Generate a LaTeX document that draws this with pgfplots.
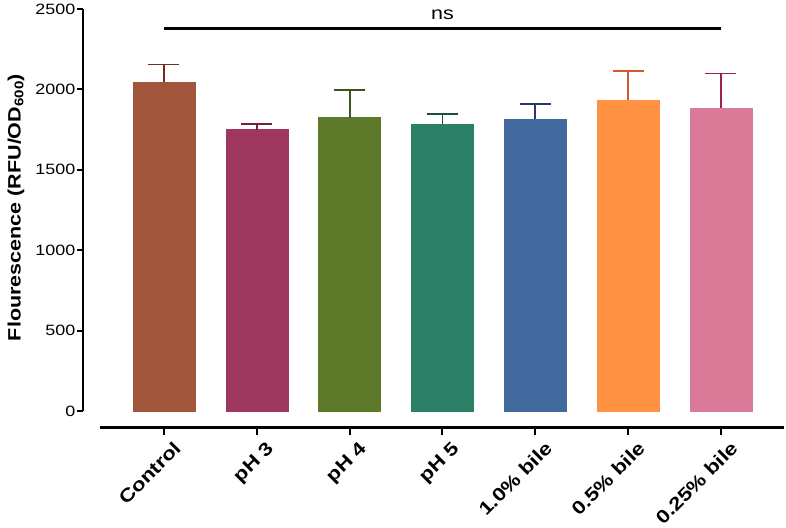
\documentclass[border=0pt]{standalone}
\usepackage{pgfplots}
\pgfplotsset{compat=1.18}
\usepackage{fontspec}
\setmainfont{Liberation Sans}[FakeStretch=1.2]
\definecolor{c1}{RGB}{161,85,58}
\definecolor{c2}{RGB}{158,56,94}
\definecolor{c3}{RGB}{93,122,43}
\definecolor{c4}{RGB}{44,128,104}
\definecolor{c5}{RGB}{65,105,158}
\definecolor{c6}{RGB}{255,147,67}
\definecolor{c7}{RGB}{216,122,152}
\definecolor{e1}{RGB}{122,42,28}
\definecolor{e2}{RGB}{122,30,62}
\definecolor{e3}{RGB}{62,84,32}
\definecolor{e4}{RGB}{30,77,60}
\definecolor{e5}{RGB}{38,61,107}
\definecolor{e6}{RGB}{214,86,44}
\definecolor{e7}{RGB}{158,33,73}
\begin{document}
\begin{tikzpicture}
\useasboundingbox (0,0) rectangle (786bp,528bp);
% y axis
\begin{axis}[
  at={(83bp,117bp)}, anchor=south west,
  scale only axis, width=1bp, height=402bp,
  xmin=0, xmax=1, ymin=0, ymax=2500,
  axis x line=none, axis y line*=left,
  xtick=\empty,
  ytick={0,500,1000,1500,2000,2500},
  tick align=outside, major tick length=6bp,
  axis line style={line width=2bp, -},
  every tick/.style={line width=2bp, black},
  yticklabel style={font=\fontsize{15}{15}\selectfont, inner sep=1.5bp},
  /pgf/number format/assume math mode=true,
  /pgf/number format/set thousands separator={},
]
\end{axis}
% bars and x axis
\begin{axis}[
  at={(100bp,100.5bp)}, anchor=south west,
  scale only axis, width=684bp, height=418.5bp,
  xmin=-0.689, xmax=6.679, ymin=-102.6, ymax=2500,
  axis y line=none, axis x line*=bottom,
  ytick=\empty,
  xtick={0,1,2,3,4,5,6},
  xticklabels={Control,pH 3,pH 4,pH 5,1.0\% bile,0.5\% bile,0.25\% bile},
  tick align=outside, major tick length=7bp,
  axis line style={line width=2.6bp, -},
  every tick/.style={line width=2bp, black},
  xticklabel style={rotate=45, anchor=north east, font=\fontsize{18.5}{18.5}\selectfont\bfseries, inner sep=0pt, yshift=-10bp, xshift=2bp},
  ybar, bar width=62bp, bar shift=0pt,
  clip=false,
  error bars/y dir=plus, error bars/y explicit,
]
\addplot[fill=c1, draw=c1, error bars/error bar style={line width=1.8bp, e1}, error bars/error mark options={rotate=90, mark size=15.5bp, line width=1.8bp, e1}] coordinates {(0,2045) +- (0,110)};
\addplot[fill=c2, draw=c2, error bars/error bar style={line width=1.8bp, e2}, error bars/error mark options={rotate=90, mark size=15.5bp, line width=1.8bp, e2}] coordinates {(1,1750) +- (0,33)};
\addplot[fill=c3, draw=c3, error bars/error bar style={line width=1.8bp, e3}, error bars/error mark options={rotate=90, mark size=15.5bp, line width=1.8bp, e3}] coordinates {(2,1824) +- (0,172)};
\addplot[fill=c4, draw=c4, error bars/error bar style={line width=1.8bp, e4}, error bars/error mark options={rotate=90, mark size=15.5bp, line width=1.8bp, e4}] coordinates {(3,1783) +- (0,66)};
\addplot[fill=c5, draw=c5, error bars/error bar style={line width=1.8bp, e5}, error bars/error mark options={rotate=90, mark size=15.5bp, line width=1.8bp, e5}] coordinates {(4,1816) +- (0,95)};
\addplot[fill=c6, draw=c6, error bars/error bar style={line width=1.8bp, e6}, error bars/error mark options={rotate=90, mark size=15.5bp, line width=1.8bp, e6}] coordinates {(5,1932) +- (0,180)};
\addplot[fill=c7, draw=c7, error bars/error bar style={line width=1.8bp, e7}, error bars/error mark options={rotate=90, mark size=15.5bp, line width=1.8bp, e7}] coordinates {(6,1886) +- (0,213)};
\draw[line width=2.5bp, black] (axis cs:0,2379) -- (axis cs:6,2379);
\node[font=\fontsize{18}{18}\selectfont, anchor=base] at (axis cs:3,2436) {ns};
\end{axis}
\node[rotate=90, font=\fontsize{18}{18}\selectfont\bfseries] at (16bp,320.5bp) {Flourescence (RFU/OD\textsubscript{600})};
\end{tikzpicture}
\end{document}
